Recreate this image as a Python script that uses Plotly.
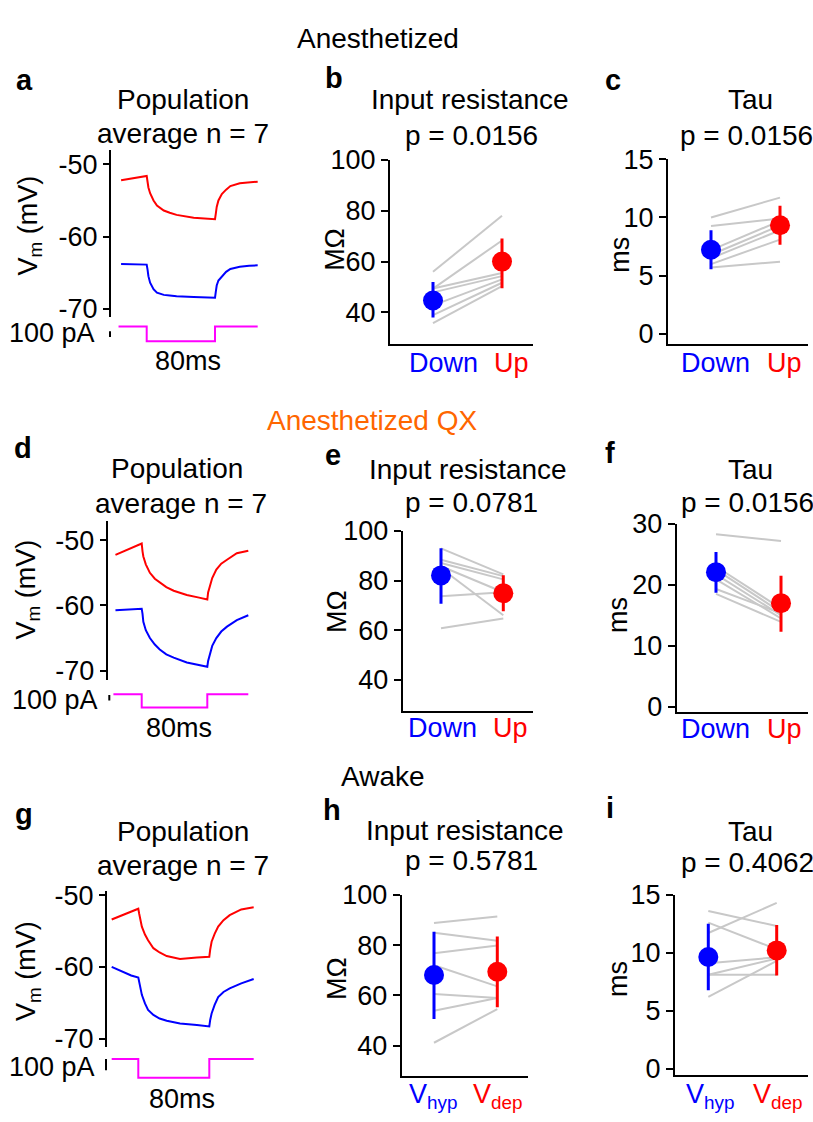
import plotly.graph_objects as go

W, H = 813, 1122
FONT = "Liberation Sans, Arial, Helvetica, sans-serif"
BLUE = "#0000ff"
RED = "#ff0000"
PINK = "#ff00ff"
GRAY = "#c8c8c8"
ORANGE = "#ff6600"

# ---------------- data ----------------
# Panel a (anesthetized), time in ms, Vm in mV
A_T = [-30, -15, 0, 1, 2, 4, 8, 12, 20, 27, 35, 55, 80, 81, 82, 84, 88, 93, 98, 109, 120, 130]
A_V_UP = [-52.2, -51.9, -51.6, -52.4, -53.2, -54.0, -55.0, -55.7, -56.4, -56.7, -57.0, -57.4, -57.6,
          -56.8, -55.9, -55.0, -54.1, -53.5, -53.0, -52.6, -52.5, -52.4]
A_V_DOWN = [-63.8, -63.85, -63.9, -64.6, -65.5, -66.4, -67.3, -67.8, -68.1, -68.2, -68.3, -68.4, -68.5,
            -67.6, -66.8, -66.1, -65.5, -64.9, -64.5, -64.2, -64.05, -64.0]
A_I_T = [-33, 0, 0, 80, 80, 130]
A_I = [0, 0, -250, -250, 0, 0]

# Panel d (anesthetized QX)
D_T = [-32, -16, 0, 1, 2, 5, 10, 16, 22, 30, 39, 55, 70, 80, 81, 83, 86, 91, 97, 104, 116, 130]
D_V_UP = [-52.25, -51.4, -50.5, -51.7, -52.5, -53.7, -55.0, -55.9, -56.5, -57.2, -57.75, -58.4, -58.8, -59.1,
          -58.0, -57.0, -55.8, -54.5, -53.6, -53.0, -52.0, -51.6]
D_V_DOWN = [-60.75, -60.6, -60.5, -61.3, -62.5, -63.8, -65.0, -66.0, -66.75, -67.5, -68.0, -68.75, -69.2, -69.4,
            -68.5, -67.5, -66.2, -65.0, -64.0, -63.25, -62.25, -61.5]
D_I_T = [-34.5, 0, 0, 80, 80, 130]
D_I = [0, 0, -250, -250, 0, 0]

# Panel g (awake)
G_T = [-30, -8, 0, 1, 2, 4, 7.5, 11, 17, 24, 32, 47, 66, 80, 81, 82.6, 86, 90, 96, 103, 116, 130]
G_V_DEP = [-53.4, -52.3, -51.9, -52.6, -53.3, -54.4, -55.5, -56.3, -57.4, -58.0, -58.5, -58.9, -58.7, -58.6,
           -57.6, -56.5, -55.4, -54.4, -53.5, -52.8, -52.0, -51.7]
G_V_HYP = [-60.0, -61.2, -61.5, -62.2, -62.8, -63.9, -65.1, -66.0, -66.7, -67.2, -67.5, -67.9, -68.1, -68.3,
           -67.4, -66.5, -65.3, -64.2, -63.5, -63.0, -62.3, -61.7]
G_I_T = [-30, 0, 0, 80, 80, 130]
G_I = [0, 0, -165, -165, 0, 0]

SCALE_PA = 100
VM_TICKS = [-70, -60, -50]
VM_TICKTEXT = ["-70", "-60", "-50"]

# Paired cells: first value = Down / V_hyp, second = Up / V_dep
B_DOWN = [56.0, 49.4, 49.4, 47.9, 42.8, 39.0, 35.8]
B_UP = [78.0, 68.3, 55.5, 54.3, 53.0, 51.7, 50.4]
B_MEAN = [44.7, 60.0]
B_LO = [38.0, 49.5]
B_HI = [52.0, 69.1]

C_DOWN = [10.0, 9.27, 7.2, 6.8, 6.5, 6.0, 5.7]
C_UP = [11.7, 9.9, 9.7, 9.3, 8.9, 8.1, 6.2]
C_MEAN = [7.23, 9.33]
C_LO = [5.55, 7.65]
C_HI = [8.9, 11.0]

E_DOWN = [93.0, 88.4, 87.1, 85.8, 85.0, 73.7, 60.8]
E_UP = [82.5, 81.8, 80.5, 75.3, 66.0, 75.3, 64.7]
E_MEAN = [82.1, 74.9]
E_LO = [70.7, 67.6]
E_HI = [93.0, 82.2]

F_DOWN = [28.3, 23.0, 22.5, 21.7, 20.9, 19.3, 18.5]
F_UP = [27.2, 16.1, 15.5, 15.0, 14.5, 15.3, 13.9]
F_MEAN = [22.07, 16.98]
F_LO = [18.7, 12.3]
F_HI = [25.4, 21.5]

H_DOWN = [88.8, 84.9, 76.8, 72.0, 60.6, 53.9, 41.2]
H_UP = [91.4, 81.7, 79.8, 63.6, 59.0, 59.0, 54.6]
H_MEAN = [68.1, 69.4]
H_LO = [50.6, 55.3]
H_HI = [85.3, 83.4]

I_DOWN = [13.6, 11.7, 12.6, 9.1, 8.1, 8.1, 6.2]
I_UP = [12.3, 14.3, 10.3, 9.6, 8.1, 9.5, 9.3]
I_MEAN = [9.63, 10.2]
I_LO = [6.76, 8.03]
I_HI = [12.5, 12.4]

RIN_TICKS = [40, 60, 80, 100]
TAU15_TICKS = [0, 5, 10, 15]
TAU30_TICKS = [0, 10, 20, 30]

# ---------------- helpers ----------------
def px(x):
    return x / W

def py(y):
    return 1 - y / H

def lin(v1, p1, v2, p2, p):
    return v1 + (p - p1) * (v2 - v1) / (p2 - p1)

fig = go.Figure()
layout = dict(
    width=W, height=H, margin=dict(l=0, r=0, t=0, b=0),
    paper_bgcolor="white", plot_bgcolor="rgba(0,0,0,0)",
    showlegend=False, font=dict(family=FONT, size=27, color="black"),
)
annotations = []

def ann(text, x, y, size=28, color="black", xanchor="center", angle=0, bold=False):
    if bold:
        text = "<b>" + text + "</b>"
    annotations.append(dict(text=text, x=px(x), y=py(y), xref="paper", yref="paper",
                            showarrow=False, xanchor=xanchor, yanchor="middle",
                            textangle=angle, font=dict(size=size, color=color, family=FONT)))

def trace_panel(n, cfg, t, v_top, v_bot, it, ival, bar_top):
    xa, yv, yi = f"xaxis{n[0]}", f"yaxis{n[1]}", f"yaxis{n[2]}"
    xr, yvr, yir = f"x{n[0]}", f"y{n[1]}", f"y{n[2]}"
    L, R = cfg["L"], cfg["R"]
    t0, t80 = cfg["t0"], cfg["t80"]
    layout[xa] = dict(domain=[px(L), px(R)], range=[lin(0, t0, 80, t80, L), lin(0, t0, 80, t80, R)],
                      visible=False, anchor=yvr)
    (va, pa), (vb, pb) = cfg["vref"]
    T, B = cfg["vT"], cfg["vB"]
    layout[yv] = dict(domain=[py(B), py(T)], range=[lin(va, pa, vb, pb, B), lin(va, pa, vb, pb, T)],
                      anchor="free", position=px(cfg["ax"]), showline=True, linewidth=2, linecolor="black",
                      ticks="outside", ticklen=6, tickwidth=2, tickcolor="black",
                      tickvals=VM_TICKS, ticktext=VM_TICKTEXT, tickfont=dict(size=27),
                      showgrid=False, zeroline=False)
    base, k = cfg["ibase"], cfg["ippp"]
    cT, cB = cfg["iT"], cfg["iB"]
    layout[yi] = dict(domain=[py(cB), py(cT)], range=[-(cB - base) / k, -(cT - base) / k],
                      visible=False, anchor=xr)
    fig.add_trace(go.Scatter(x=t, y=v_top, xaxis=xr, yaxis=yvr, mode="lines",
                             line=dict(color=RED, width=2)))
    fig.add_trace(go.Scatter(x=t, y=v_bot, xaxis=xr, yaxis=yvr, mode="lines",
                             line=dict(color=BLUE, width=2)))
    fig.add_trace(go.Scatter(x=it, y=ival, xaxis=xr, yaxis=yir, mode="lines",
                             line=dict(color=PINK, width=2)))
    tb = lin(0, t0, 80, t80, cfg["barx"])
    fig.add_trace(go.Scatter(x=[tb, tb], y=[bar_top, bar_top - SCALE_PA], xaxis=xr, yaxis=yir,
                             mode="lines", line=dict(color="black", width=2)))

def pair_panel(n, cfg, down, up, mean, lo, hi, ticks):
    xa, ya = f"xaxis{n}", f"yaxis{n}"
    xr, yr = f"x{n}", f"y{n}"
    L, R, p0, p1 = cfg["L"], cfg["R"], cfg["p0"], cfg["p1"]
    layout[xa] = dict(domain=[px(L), px(R)], range=[lin(0, p0, 1, p1, L), lin(0, p0, 1, p1, R)],
                      anchor=yr, showline=True, linewidth=2, linecolor="black",
                      showticklabels=False, ticks="", showgrid=False, zeroline=False)
    (va, pa), (vb, pb) = cfg["vref"]
    T, B = cfg["T"], cfg["B"]
    layout[ya] = dict(domain=[py(B), py(T)], range=[lin(va, pa, vb, pb, B), lin(va, pa, vb, pb, T)],
                      anchor=xr, showline=True, linewidth=2, linecolor="black",
                      ticks="outside", ticklen=7, tickwidth=2, tickcolor="black",
                      tickvals=ticks, ticktext=[str(v) for v in ticks], tickfont=dict(size=27),
                      showgrid=False, zeroline=False)
    xs, ys = [], []
    for d, u in zip(down, up):
        xs += [0, 1, None]
        ys += [d, u, None]
    fig.add_trace(go.Scatter(x=xs, y=ys, xaxis=xr, yaxis=yr, mode="lines",
                             line=dict(color=GRAY, width=2)))
    for i, col in enumerate([BLUE, RED]):
        fig.add_trace(go.Scatter(
            x=[i], y=[mean[i]], xaxis=xr, yaxis=yr, mode="markers",
            marker=dict(color=col, size=20, line=dict(width=0)),
            error_y=dict(type="data", symmetric=False, array=[hi[i] - mean[i]],
                         arrayminus=[mean[i] - lo[i]], color=col, thickness=3, width=0)))

# ---------------- panels ----------------
trace_panel((1, 1, 2), dict(L=100, R=262, t0=146.7, t80=215.0, vref=((-50, 152.7), (-70, 300.0)),
                            vT=138.3, vB=308.3, ax=110, ibase=318.3, ippp=0.06, iT=310, iB=342, barx=110),
            A_T, A_V_UP, A_V_DOWN, A_I_T, A_I, -80)
trace_panel((2, 3, 4), dict(L=100, R=262, t0=141.7, t80=207.3, vref=((-50, 536.7), (-70, 670.0)),
                            vT=516.7, vB=680.0, ax=106.7, ibase=694.0, ippp=0.0548, iT=686, iB=716, barx=109.3),
            D_T, D_V_UP, D_V_DOWN, D_I_T, D_I, -18)
trace_panel((3, 5, 6), dict(L=100, R=262, t0=138.3, t80=209.3, vref=((-50, 899.3), (-70, 1046.0)),
                            vT=895.0, vB=1055.0, ax=106, ibase=1066.7, ippp=0.117, iT=1060, iB=1092, barx=106),
            G_T, G_V_DEP, G_V_HYP, G_I_T, G_I, 0)

pair_panel(7, dict(L=390, R=533, p0=433, p1=502, T=148, B=336, vref=((100, 148), (40, 304))),
           B_DOWN, B_UP, B_MEAN, B_LO, B_HI, RIN_TICKS)
pair_panel(8, dict(L=668, R=808, p0=711, p1=780, T=147.3, B=336, vref=((15, 147.3), (0, 326))),
           C_DOWN, C_UP, C_MEAN, C_LO, C_HI, TAU15_TICKS)
pair_panel(9, dict(L=402.7, R=533, p0=441, p1=503.3, T=527.3, B=711.7, vref=((100, 527.3), (40, 679.3))),
           E_DOWN, E_UP, E_MEAN, E_LO, E_HI, RIN_TICKS)
pair_panel(10, dict(L=676.7, R=808, p0=716, p1=781, T=520, B=712.7, vref=((30, 520), (0, 706.7))),
           F_DOWN, F_UP, F_MEAN, F_LO, F_HI, TAU30_TICKS)
pair_panel(11, dict(L=401.7, R=528, p0=434, p1=497.3, T=899, B=1084, vref=((100, 899), (40, 1053.3))),
           H_DOWN, H_UP, H_MEAN, H_LO, H_HI, RIN_TICKS)
pair_panel(12, dict(L=675, R=808, p0=708.3, p1=776.7, T=899, B=1083.3, vref=((15, 899), (0, 1076.7))),
           I_DOWN, I_UP, I_MEAN, I_LO, I_HI, TAU15_TICKS)

# ---------------- text ----------------
ann("Anesthetized", 378, 24)
ann("Anesthetized QX", 372, 414, color=ORANGE)
ann("Awake", 383, 778)

for letter, x, y in [("a", 24, 66), ("b", 334, 64), ("c", 613, 66),
                     ("d", 23, 442), ("e", 333, 450), ("f", 610, 448),
                     ("g", 24, 816), ("h", 332, 812), ("i", 610, 810)]:
    ann(letter, x, y, size=29, bold=True)

# titles
for txt, x, y in [("Population", 183, 86), ("average n = 7", 183, 121),
                  ("Input resistance", 470, 86), ("p = 0.0156", 471, 123),
                  ("Tau", 750, 86), ("p = 0.0156", 746, 123),
                  ("Population", 177, 463), ("average n = 7", 181, 499),
                  ("Input resistance", 468, 464), ("p = 0.0781", 471, 498),
                  ("Tau", 750, 464), ("p = 0.0156", 747, 498),
                  ("Population", 183, 834), ("average n = 7", 183, 869),
                  ("Input resistance", 465, 833), ("p = 0.5781", 471, 864),
                  ("Tau", 750, 834), ("p = 0.4062", 747, 866)]:
    ann(txt, x, y)

# axis titles
for txt, x, y in [("V<sub>m</sub> (mV)", 30, 215), ("V<sub>m</sub> (mV)", 28, 587), ("V<sub>m</sub> (mV)", 28, 977),
                  ("MΩ", 335, 240), ("MΩ", 337, 610), ("MΩ", 337, 985),
                  ("ms", 620, 245), ("ms", 618, 613), ("ms", 618, 985)]:
    ann(txt, x, y, size=27, angle=-90)

# category labels
for x, y in [(443.5, 356), (715, 356), (443, 729), (715, 730)]:
    ann("Down", x, y, size=27, color=BLUE)
for x, y in [(511, 356), (784, 356), (510, 729), (784, 730)]:
    ann("Up", x, y, size=27, color=RED)
for x, y in [(433, 1105), (710, 1105)]:
    ann("V<sub>hyp</sub>", x, y, size=27, color=BLUE)
for x, y in [(498, 1105), (778, 1105)]:
    ann("V<sub>dep</sub>", x, y, size=27, color=RED)

# scale labels
for x, y in [(97, 325), (100, 700), (97, 1075)]:
    ann("100 pA", x, y, size=27, xanchor="right")
for x, y in [(188, 354), (179, 729), (182, 1108)]:
    ann("80ms", x, y, size=27)

layout["annotations"] = annotations
fig.update_layout(**layout)
fig.write_html("out.html")
